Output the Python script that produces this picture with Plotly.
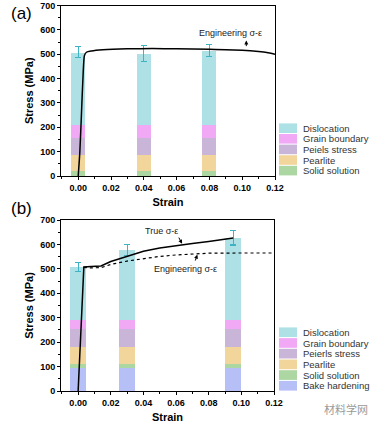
import plotly.graph_objects as go

# ---------------- data ----------------
# Panel (a)
a_strain_bars = [0.0, 0.04, 0.08]
a_components = ["Solid solution", "Pearlite", "Peiels stress", "Grain boundary", "Dislocation"]
a_solid = [22, 22, 22]
a_pearlite = [68, 68, 68]
a_peierls = [68, 68, 68]
a_grain = [52, 52, 52]
a_dislocation = [299, 293, 306]
a_err = [22, 34, 25]

a_curve_strain = [0, 0.001, 0.002, 0.003, 0.0038, 0.005, 0.008, 0.015, 0.03, 0.045, 0.06, 0.08, 0.1, 0.11, 0.115, 0.12]
a_curve_stress = [0, 100, 260, 420, 495, 508, 513, 518, 522, 523, 522, 520, 516, 511, 507, 500]

# Panel (b)
b_strain_bars = [0.0, 0.03, 0.095]
b_components = ["Bake hardening", "Solid solution", "Pearlite", "Peierls stress", "Grain boundary", "Dislocation"]
b_bake = [93, 93, 93]
b_solid = [19, 19, 19]
b_pearlite = [69, 69, 69]
b_peierls = [71, 71, 71]
b_grain = [39, 39, 39]
b_dislocation = [216, 287, 337]
b_err = [18, 23, 30]

b_true_strain = [0, 0.001, 0.002, 0.003, 0.0035, 0.008, 0.014, 0.02, 0.03, 0.04, 0.05, 0.06, 0.07, 0.08, 0.095]
b_true_stress = [0, 150, 330, 480, 508, 510, 512, 530, 552, 572, 585, 596, 604, 612, 626]
b_eng_strain = [0.0035, 0.008, 0.014, 0.02, 0.03, 0.04, 0.05, 0.06, 0.07, 0.08, 0.1, 0.12]
b_eng_stress = [506, 504, 505, 518, 532, 543, 551, 557, 561, 564, 565, 565]

y_ticks = [0, 100, 200, 300, 400, 500, 600, 700]
x_ticks = [0.0, 0.02, 0.04, 0.06, 0.08, 0.10, 0.12]
x_ticklabels = ["0.00", "0.02", "0.04", "0.06", "0.08", "0.10", "0.12"]

colors = {
    "Dislocation": "#aee1e6",
    "Grain boundary": "#f2a9f5",
    "Peiels stress": "#c8b5d8",
    "Peierls stress": "#c8b5d8",
    "Pearlite": "#f2d59a",
    "Solid solution": "#acd6a2",
    "Bake hardening": "#b7bff7",
}
err_color = "#3fb3c6"

FONT = "Liberation Sans, Arial, sans-serif"
W, H = 381, 427

def px(x):
    return x / W

def py(y):
    return 1 - y / H

fig = go.Figure()

a_vals = [a_solid, a_pearlite, a_peierls, a_grain, a_dislocation]
for name, vals in zip(a_components, a_vals):
    fig.add_trace(go.Bar(
        x=a_strain_bars, y=vals, name=name, width=0.0085,
        marker=dict(color=colors[name], line=dict(width=0)),
        error_y=dict(type="data", array=a_err, color=err_color, thickness=1.2, width=3,
                     visible=(name == "Dislocation")),
        xaxis="x", yaxis="y", showlegend=False,
    ))

fig.add_trace(go.Scatter(x=a_curve_strain, y=a_curve_stress, mode="lines",
                         line=dict(color="black", width=1.5, shape="spline", smoothing=0.6),
                         showlegend=False, xaxis="x", yaxis="y"))

b_vals = [b_bake, b_solid, b_pearlite, b_peierls, b_grain, b_dislocation]
for name, vals in zip(b_components, b_vals):
    fig.add_trace(go.Bar(
        x=b_strain_bars, y=vals, name=name, width=0.0095,
        marker=dict(color=colors[name], line=dict(width=0)),
        error_y=dict(type="data", array=b_err, color=err_color, thickness=1.2, width=3,
                     visible=(name == "Dislocation")),
        xaxis="x2", yaxis="y2", showlegend=False,
    ))

fig.add_trace(go.Scatter(x=b_true_strain, y=b_true_stress, mode="lines",
                         line=dict(color="black", width=1.5),
                         showlegend=False, xaxis="x2", yaxis="y2"))
fig.add_trace(go.Scatter(x=b_eng_strain, y=b_eng_stress, mode="lines",
                         line=dict(color="black", width=1.2, dash="dot"),
                         showlegend=False, xaxis="x2", yaxis="y2"))

def xaxis(domain, anchor):
    return dict(domain=domain, anchor=anchor, range=[-0.0105, 0.12], automargin=False,
                tickvals=x_ticks, ticktext=x_ticklabels,
                showline=True, mirror=True, linecolor="black", linewidth=1,
                ticks="outside", ticklen=3, tickcolor="black",
                minor=dict(ticks="outside", ticklen=2, dtick=0.01, tick0=0, tickcolor="black"),
                showgrid=False, zeroline=False,
                tickfont=dict(family=FONT, size=9, color="black", weight="bold"),
                title=dict(text="Strain", font=dict(family=FONT, size=11, color="black", weight="bold"),
                           standoff=6))

def yaxis(domain, anchor):
    return dict(domain=domain, anchor=anchor, range=[0, 700], automargin=False,
                tickvals=y_ticks, ticklabeloverflow="allow",
                showline=True, mirror=True, linecolor="black", linewidth=1,
                ticks="outside", ticklen=3, tickcolor="black",
                minor=dict(ticks="outside", ticklen=2, dtick=50, tick0=0, tickcolor="black"),
                showgrid=False, zeroline=False,
                tickfont=dict(family=FONT, size=9, color="black", weight="bold"),
                title=dict(text="Stress (MPa)", font=dict(family=FONT, size=11, color="black", weight="bold"),
                           standoff=4))

fig.update_layout(
    width=W, height=H,
    margin=dict(l=0, r=0, t=0, b=0),
    paper_bgcolor="white", plot_bgcolor="white",
    barmode="stack", bargap=0,
    showlegend=False,
    xaxis=xaxis([px(61), px(275)], "y"),
    yaxis=yaxis([py(176), py(5.5)], "x"),
    xaxis2=xaxis([px(61), px(274)], "y2"),
    yaxis2=yaxis([py(391), py(220)], "x2"),
    font=dict(family=FONT),
)

# ---- manual legends (drawn from the component names / colours) ----
def draw_legend(names_top_down, top_px, row_h):
    for i, name in enumerate(names_top_down):
        y0 = top_px + i * row_h
        fig.add_shape(type="rect", xref="paper", yref="paper",
                      x0=px(279), x1=px(297), y0=py(y0 + row_h - 0.6), y1=py(y0 + 0.4),
                      fillcolor=colors[name], line=dict(width=0))
        fig.add_annotation(x=px(301), y=py(y0 + row_h / 2), xref="paper", yref="paper",
                           xanchor="left", yanchor="middle", text=name, showarrow=False,
                           font=dict(family=FONT, size=9.5, color="#333333"))

draw_legend(list(reversed(a_components)), 123, 10.6)
draw_legend(list(reversed(b_components)), 327, 10.7)

ann_font = dict(family=FONT, size=9, color="#222222")
fig.add_annotation(x=0.0926, y=586, xref="x", yref="y", text="Engineering σ-ε",
                   xanchor="center", yanchor="middle", showarrow=False, font=ann_font)
fig.add_annotation(x=0.1025, y=556, ax=0.1025, ay=527, xref="x", yref="y", axref="x", ayref="y",
                   text="", showarrow=True, arrowhead=2, arrowsize=0.8, arrowwidth=1, arrowcolor="black")

fig.add_annotation(x=0.051, y=655, xref="x2", yref="y2", text="True σ-ε",
                   xanchor="center", yanchor="middle", showarrow=False, font=ann_font)
fig.add_annotation(x=0.0637, y=603, ax=0.0612, ay=634, xref="x2", yref="y2", axref="x2", ayref="y2",
                   text="", showarrow=True, arrowhead=2, arrowsize=0.8, arrowwidth=1, arrowcolor="black")
fig.add_annotation(x=0.0655, y=499, xref="x2", yref="y2", text="Engineering σ-ε",
                   xanchor="center", yanchor="middle", showarrow=False, font=ann_font)
fig.add_annotation(x=0.073, y=558, ax=0.0715, ay=528, xref="x2", yref="y2", axref="x2", ayref="y2",
                   text="", showarrow=True, arrowhead=2, arrowsize=0.8, arrowwidth=1, arrowcolor="black")

fig.add_annotation(x=px(21), y=py(13), xref="paper", yref="paper", text="(a)",
                   xanchor="center", yanchor="middle",
                   showarrow=False, font=dict(family=FONT, size=17, color="black"))
fig.add_annotation(x=px(21), y=py(208), xref="paper", yref="paper", text="(b)",
                   xanchor="center", yanchor="middle",
                   showarrow=False, font=dict(family=FONT, size=17, color="black"))

fig.add_annotation(x=px(370), y=py(409), xref="paper", yref="paper", text="材料学网",
                   xanchor="right", yanchor="middle", showarrow=False,
                   font=dict(family="Noto Sans CJK SC", size=11, color="#9a9a9a"))

# remove the browser's default 8px page margin so the figure fills the window
fig.write_html("out.html", config={"displayModeBar": False},
               post_script="document.body.style.margin='0';")
